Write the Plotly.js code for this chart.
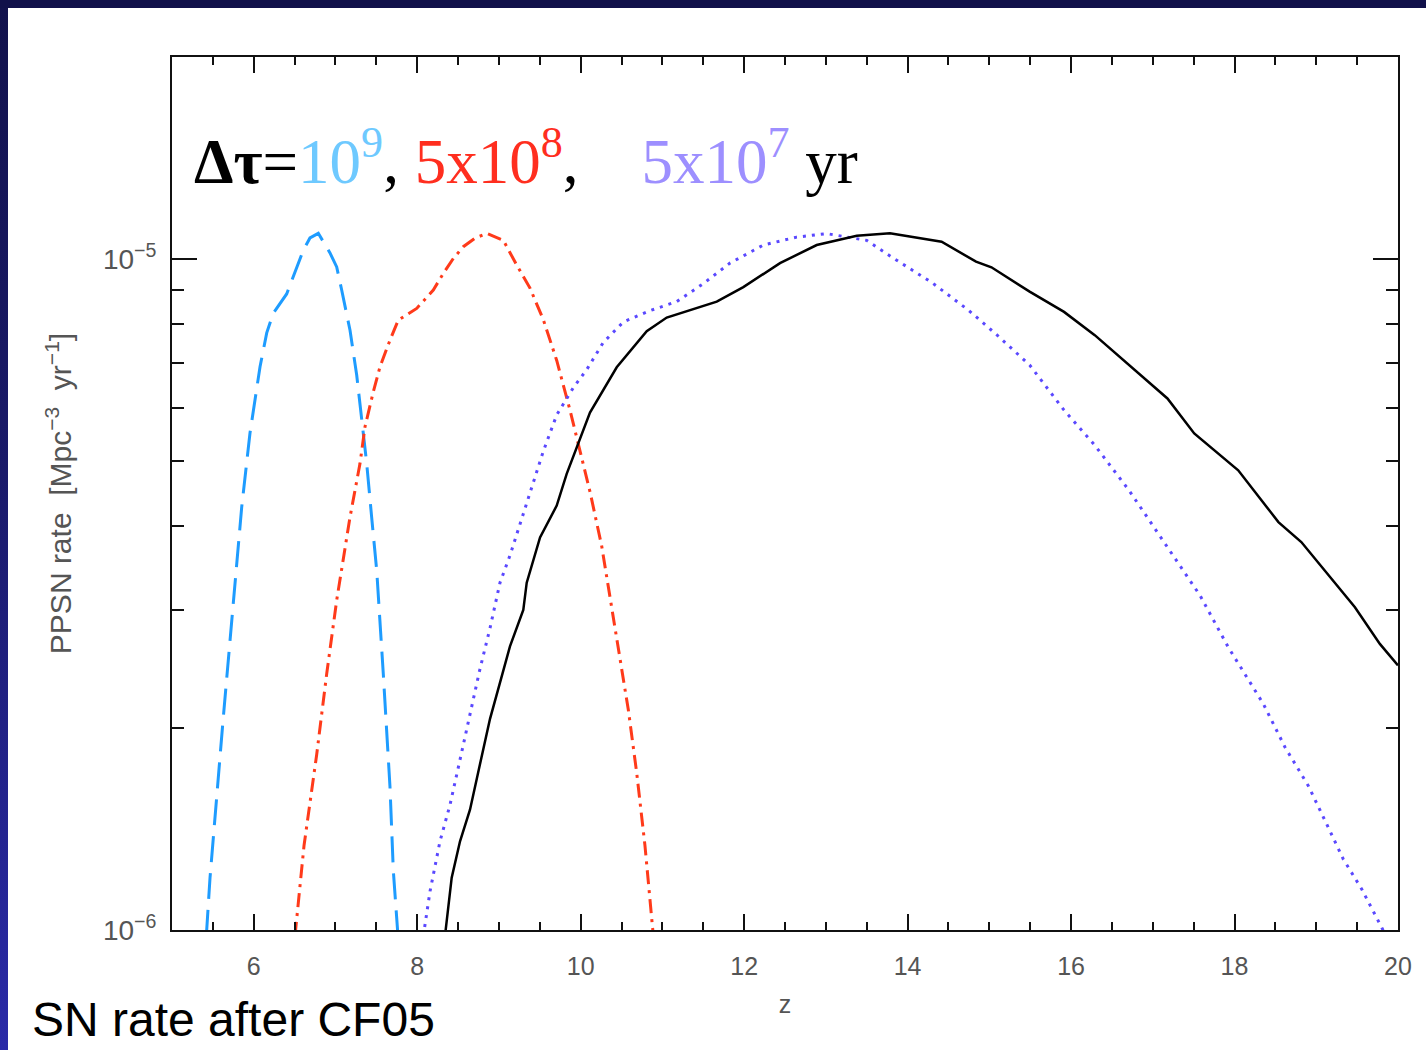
<!DOCTYPE html>
<html>
<head>
<meta charset="utf-8">
<script src="https://cdn.plot.ly/plotly-3.0.1.min.js"></script>
<style>
html,body{margin:0;padding:0;width:1426px;height:1050px;overflow:hidden;}
body{background:linear-gradient(to bottom,#12124c 0%,#1a1a6a 45%,#2a2aa8 100%);position:relative;}
#topband{position:absolute;left:0;top:0;width:1426px;height:8px;background:#11114a;}
#chart{position:absolute;left:8px;top:8px;width:1418px;height:1042px;background:#ffffff;}
</style>
</head>
<body>
<div id="topband"></div>
<div id="chart"></div>
<script>
// ---- Data (redshift z, PPSN rate in Mpc^-3 yr^-1) ----
// Δτ = 1e9 yr (light-blue dashed)
const zBlue = [5.42,5.465,5.624,5.771,5.853,5.954,6.016,6.077,6.159,6.239,6.403,6.526,6.607,6.688,6.790,6.933,7.015,7.076,7.178,7.260,7.321,7.382,7.443,7.505,7.585,7.667,7.708,7.765];
const rateBlue = [0.98e-6,1.196e-6,2.05e-6,3.28e-6,4.27e-6,5.50e-6,6.16e-6,6.91e-6,7.76e-6,8.30e-6,8.87e-6,9.74e-6,10.31e-6,10.75e-6,10.92e-6,10.21e-6,9.73e-6,8.99e-6,7.83e-6,6.71e-6,5.82e-6,4.96e-6,4.12e-6,3.43e-6,2.41e-6,1.635e-6,1.225e-6,0.98e-6];

// Δτ = 5e8 yr (red dash-dot)
const zRed = [6.505,6.615,6.770,6.893,7.015,7.096,7.178,7.300,7.361,7.463,7.545,7.667,7.769,7.994,8.197,8.320,8.442,8.564,8.707,8.851,9.054,9.218,9.380,9.543,9.707,9.870,9.992,10.115,10.258,10.359,10.482,10.583,10.686,10.787,10.889];
const rateRed = [0.98e-6,1.335e-6,1.825e-6,2.41e-6,3.10e-6,3.554e-6,4.125e-6,4.955e-6,5.62e-6,6.34e-6,6.91e-6,7.57e-6,8.11e-6,8.44e-6,8.99e-6,9.52e-6,10.02e-6,10.43e-6,10.74e-6,10.92e-6,10.66e-6,9.79e-6,9.05e-6,8.12e-6,7.06e-6,5.95e-6,5.17e-6,4.495e-6,3.73e-6,3.143e-6,2.566e-6,2.129e-6,1.713e-6,1.335e-6,0.98e-6];

// Δτ = 5e7 yr (violet dotted)
const zViolet = [8.075,8.157,8.279,8.401,8.524,8.646,8.768,8.891,9.013,9.135,9.258,9.380,9.543,9.707,9.910,10.074,10.277,10.522,10.848,11.175,11.501,11.827,12.235,12.643,13.011,13.500,13.831,14.299,14.744,15.072,15.493,15.914,16.290,16.709,17.150,17.578,17.924,18.353,18.618,18.903,19.148,19.331,19.557,19.821,19.854];
const rateViolet = [0.98e-6,1.142e-6,1.356e-6,1.536e-6,1.794e-6,2.096e-6,2.449e-6,2.818e-6,3.293e-6,3.615e-6,4.03e-6,4.495e-6,5.17e-6,5.856e-6,6.43e-6,6.84e-6,7.51e-6,8.056e-6,8.375e-6,8.64e-6,9.19e-6,9.86e-6,10.49e-6,10.78e-6,10.91e-6,10.66e-6,10.02e-6,9.22e-6,8.39e-6,7.746e-6,6.95e-6,5.953e-6,5.277e-6,4.521e-6,3.769e-6,3.152e-6,2.638e-6,2.172e-6,1.872e-6,1.640e-6,1.421e-6,1.275e-6,1.150e-6,1.002e-6,0.98e-6];

// SN rate after CF05 (black solid)
const zBlack = [8.340,8.422,8.524,8.646,8.768,8.891,9.013,9.135,9.298,9.340,9.503,9.707,9.829,9.952,10.114,10.441,10.808,11.053,11.665,11.990,12.439,12.888,13.378,13.784,14.416,14.837,15.026,15.493,15.914,16.290,16.709,17.179,17.507,18.045,18.537,18.817,19.473,19.778,20.0];
const rateBlack = [0.98e-6,1.197e-6,1.356e-6,1.511e-6,1.766e-6,2.064e-6,2.337e-6,2.647e-6,2.998e-6,3.293e-6,3.847e-6,4.29e-6,4.783e-6,5.253e-6,5.902e-6,6.897e-6,7.806e-6,8.18e-6,8.64e-6,9.08e-6,9.86e-6,10.49e-6,10.83e-6,10.92e-6,10.61e-6,9.91e-6,9.72e-6,8.94e-6,8.34e-6,7.70e-6,6.95e-6,6.197e-6,5.495e-6,4.843e-6,4.054e-6,3.786e-6,3.027e-6,2.669e-6,2.48e-6];

// ---- Tick labels ----
const xTickVals = [6,8,10,12,14,16,18,20];
const xTickText = ["6","8","10","12","14","16","18","20"];
const yTickVals = [1e-6,1e-5];
const yTickText = ["10<sup>\u22126</sup>","10<sup>\u22125</sup>"];
const yMinorVals = [2e-6,3e-6,4e-6,5e-6,6e-6,7e-6,8e-6,9e-6,2e-5];

const xTitle = "z";
const yTitle = "PPSN rate  [Mpc<sup>\u22123</sup>  yr<sup>\u22121</sup>]";
const labelText = "SN rate after CF05";
const dtText = '<b>\u0394\u03c4</b>=<span style="color:#6ec9ff">10<sup>9</sup></span>, <span style="color:#ff2e1f">5x10<sup>8</sup></span>,    <span style="color:#9d8fff">5x10<sup>7</sup></span> yr';

const traces = [
  {x: zBlue, y: rateBlue, mode:'lines', line:{color:'#1e9cff', width:3, dash:'26px,11px'}, hoverinfo:'skip'},
  {x: zRed, y: rateRed, mode:'lines', line:{color:'#ff3a1a', width:3, dash:'14px,6px,3px,6px'}, hoverinfo:'skip'},
  {x: zViolet, y: rateViolet, mode:'lines', line:{color:'#5a48ff', width:3, dash:'3px,6px'}, hoverinfo:'skip'},
  {x: zBlack, y: rateBlack, mode:'lines', line:{color:'#000000', width:2.5}, hoverinfo:'skip'}
];

const xTickFont = {family:'Liberation Sans, Arial, sans-serif', size:25, color:'#555555'};
const yTickFont = {family:'Liberation Sans, Arial, sans-serif', size:28, color:'#555555'};
const yTitleFont = {family:'Liberation Sans, Arial, sans-serif', size:30, color:'#555555'};

const layout = {
  width:1418, height:1042,
  margin:{l:164, r:28, t:49, b:120},
  paper_bgcolor:'#ffffff', plot_bgcolor:'#ffffff',
  showlegend:false,
  xaxis:{
    range:[5,20], tickmode:'array', tickvals:xTickVals, ticktext:xTickText,
    ticks:'inside', ticklen:16, tickwidth:2, tickcolor:'#111',
    showline:true, linecolor:'#111', linewidth:2, mirror:'allticks',
    showgrid:false, zeroline:false,
    minor:{ticks:'inside', ticklen:8, tickwidth:2, tickcolor:'#111', tickmode:'linear', tick0:0, dtick:0.5},
    tickfont:xTickFont, ticklabelstandoff:13,
    title:{text:xTitle, font:xTickFont, standoff:16}
  },
  yaxis:{
    type:'log', range:[-6, Math.log10(2e-5)],
    tickmode:'array', tickvals:yTickVals, ticktext:yTickText,
    ticks:'inside', ticklen:25, tickwidth:2, tickcolor:'#111',
    showline:true, linecolor:'#111', linewidth:2, mirror:'allticks',
    showgrid:false, zeroline:false,
    minor:{ticks:'inside', ticklen:12, tickwidth:2, tickcolor:'#111', tickmode:'array', tickvals:yMinorVals},
    tickfont:yTickFont, ticklabelstandoff:8,
    title:{text:yTitle, font:yTitleFont, standoff:22}
  },
  annotations:[
    {xref:'paper', yref:'paper', x:0.016, y:0.885, xanchor:'left', yanchor:'middle', showarrow:false,
     text:dtText, font:{family:'Liberation Serif, Times New Roman, serif', size:63, color:'#000'}},
    {xref:'paper', yref:'paper', x:-0.1158, y:-0.103, xanchor:'left', yanchor:'middle', showarrow:false,
     text:labelText, font:{family:'Liberation Sans, Arial, sans-serif', size:48, color:'#000'}}
  ]
};

Plotly.newPlot('chart', traces, layout, {displayModeBar:false, staticPlot:true});
</script>
</body>
</html>
